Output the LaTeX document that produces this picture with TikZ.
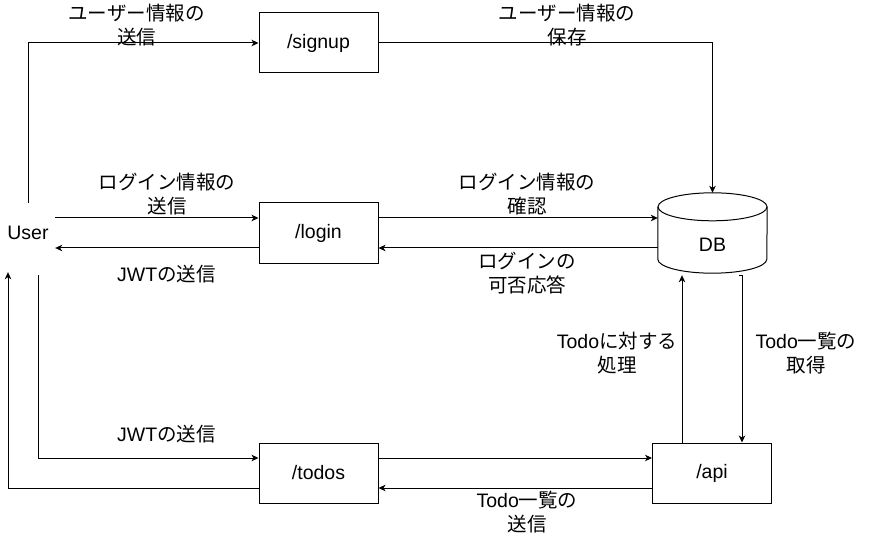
\documentclass[tikz,border=0pt]{standalone}
\usepackage{fontspec}
\setmainfont{Liberation Sans}
\newfontfamily\jpfont{Noto Sans CJK JP}
\newcommand{\jp}[1]{{\jpfont #1}}
\usetikzlibrary{arrows.meta,positioning,calc}

\begin{document}
\begin{tikzpicture}[
	x=1pt, y=-1pt,
	every node/.style={font=\fontsize{19.5}{24}\selectfont},
	box/.style={draw, line width=1pt, minimum width=119pt, minimum height=60pt, inner sep=0pt},
	lbl/.style={align=center, inner sep=0pt},
	arr/.style={line width=1pt, -{Stealth[length=7pt,width=6.5pt,inset=2pt]}}
	]
		\useasboundingbox (0,0) rectangle (888,537);
		
		\node		(user)		at	(28,233)		[minimum width=54pt, minimum height=60pt, inner sep=0pt]	{User};
		\node[box]	(signup)	at	(318.5,43)		{/signup};
		\node[box]	(login)		at	(318.5,233)		{/login};
		\node[box]	(todos)		at	(318.5,473)		{/todos};
		\node[box]	(api)		at	(712,473)		{/api};
		
		% DB cylinder
		\node		(db)		at	(712.5,233)		[minimum width=109pt, minimum height=80pt, inner sep=0pt]	{};
		\draw[line width=1pt] ($(db.north)+(0,14)$) ellipse [x radius=54.5pt, y radius=14pt];
		\draw[line width=1pt] ($(db.north west)+(0,14)$) -- ($(db.south west)+(0,-14)$)
			arc[start angle=180, end angle=360, x radius=54.5pt, y radius=14pt]
			-- ($(db.north east)+(0,14)$);
		\node		(dbtext)	at	($(db.center)+(0,12)$)	{DB};
		
		% labels
		\node[lbl]	(lblsignup)	at	(136.5,25)		{\jp{ユーザー情報の}\\\jp{送信}};
		\node[lbl]	(lblsave)	at	(567,25)		{\jp{ユーザー情報の}\\\jp{保存}};
		\node[lbl]	(lbllogin)	at	(167,194)		{\jp{ログイン情報の}\\\jp{送信}};
		\node[lbl]	(lbljwta)	at	(166.5,274)		{JWT\jp{の送信}};
		\node[lbl]	(lblcheck)	at	(527,194)		{\jp{ログイン情報の}\\\jp{確認}};
		\node[lbl]	(lblreply)	at	(527,273)		{\jp{ログインの}\\\jp{可否応答}};
		\node[lbl]	(lbljwtb)	at	(166.5,434)		{JWT\jp{の送信}};
		\node[lbl]	(lblproc)	at	(617,353)		{Todo\jp{に対する}\\\jp{処理}};
		\node[lbl]	(lblget)	at	(806,353)		{Todo\jp{一覧の}\\\jp{取得}};
		\node[lbl]	(lbllist)	at	(527,512)		{Todo\jp{一覧の}\\\jp{送信}};
		
		\draw[arr] (user.north) |- (signup.west);
		\draw[arr] (signup.east) -| (db.north);
		
		\draw[arr] ($(user.east)+(0,-15)$) -- ($(login.west)+(0,-15)$);
		\draw[arr] ($(login.west)+(0,15)$) -- ($(user.east)+(0,15)$);
		\draw[arr] ($(login.east)+(0,-15)$) -- ($(db.west)+(0,-15)$);
		\draw[arr] ($(db.west)+(0,15)$) -- ($(login.east)+(0,15)$);
		
		\draw[arr] ($(user.south)+(10,12)$) |- ($(todos.west)+(0,-15)$);
		\draw[arr] ($(todos.west)+(0,15)$) -| ($(user.south)+(-20,9)$);
		\draw[arr] ($(todos.east)+(0,-15)$) -- ($(api.west)+(0,-15)$);
		\draw[arr] ($(api.west)+(0,15)$) -- ($(todos.east)+(0,15)$);
		
		\draw[arr] ($(api.north)+(-30,0)$) -- ($(db.south)+(-30.5,2)$);
		\draw[arr] ($(db.south)+(26,2)$) -| ($(api.north)+(30,0)$);
	\end{tikzpicture}
\end{document}
